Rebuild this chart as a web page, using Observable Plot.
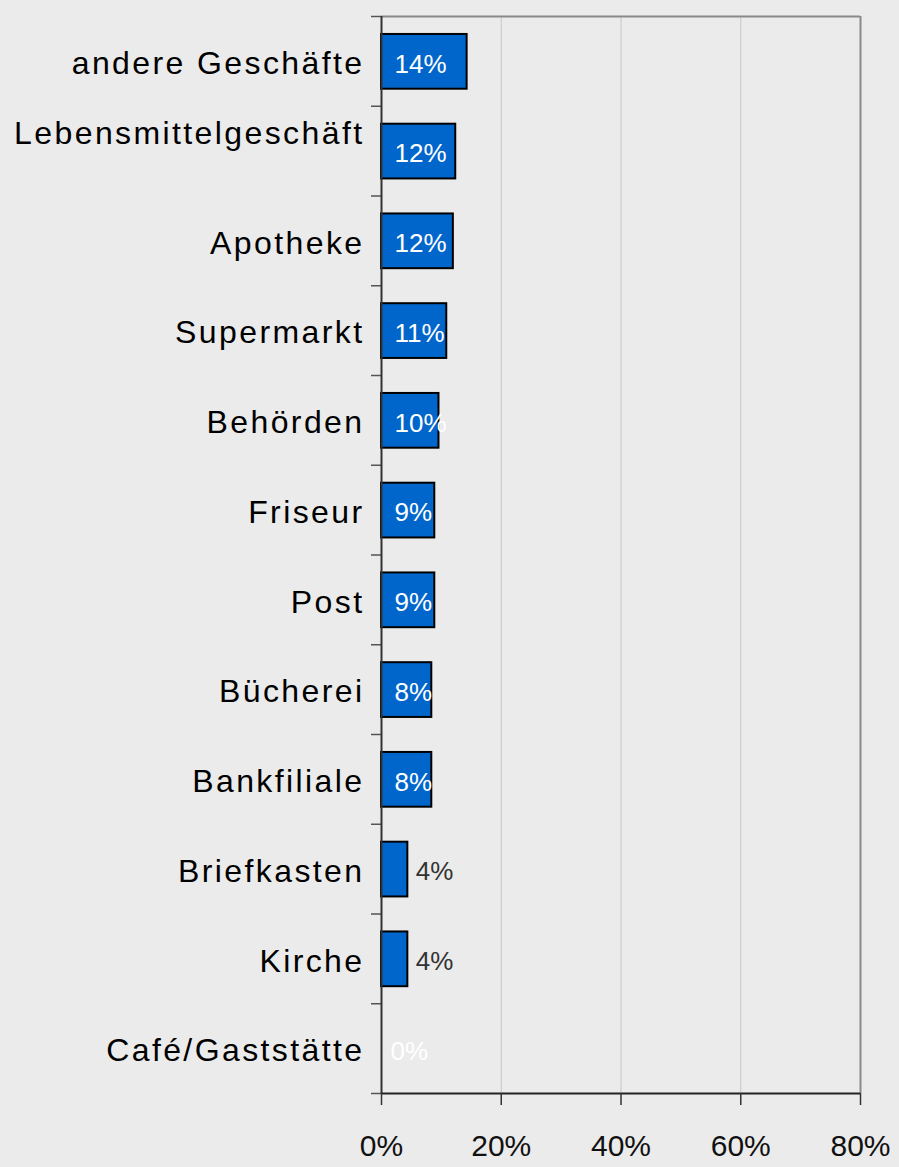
<!DOCTYPE html>
<html><head><meta charset="utf-8">
<script src="https://cdn.jsdelivr.net/npm/d3@7"></script>
<script src="https://cdn.jsdelivr.net/npm/@observablehq/plot@0.6"></script>
<style>
html,body{margin:0;padding:0;background:#ebebeb;}
#chart svg{display:block;}
</style></head><body><div id="chart"></div>
<script>
const categories = ["andere Geschäfte", "Lebensmittelgeschäft\n", "Apotheke", "Supermarkt", "Behörden", "Friseur", "Post", "Bücherei", "Bankfiliale", "Briefkasten", "Kirche", "Café/Gaststätte"];
const values = [14.3, 12.4, 12.0, 10.9, 9.6, 8.9, 8.9, 8.4, 8.4, 4.4, 4.4, 0];
const xTicks = [0, 20, 40, 60, 80];
const xTickLabels = ["0%", "20%", "40%", "60%", "80%"];

const data = categories.map((c, i) => ({cat: c, i, v: values[i], label: Math.round(values[i]) + "%"}));
const n = categories.length;
const font = "'Liberation Sans', Arial, Helvetica, sans-serif";

const chart = Plot.plot({
  width: 899,
  height: 1167,
  marginLeft: 381,
  marginRight: 39,
  marginTop: 16,
  marginBottom: 74,
  style: {background: "#ebebeb", fontFamily: font},
  x: {domain: [0, 80], axis: null},
  y: {domain: [0, n], reverse: true, axis: null},
  marks: [
    Plot.text(data, {x: 0, y: d => d.i + 0.5, text: "cat", textAnchor: "end", dx: -17, dy: 0, fontSize: 32, fill: "#000", lineHeight: 1.25}),
    Plot.gridX(xTicks.slice(1, -1), {stroke: "#c6c6c6", strokeOpacity: 1, strokeWidth: 1}),
    Plot.ruleY([0], {stroke: "#8a8a8a", strokeWidth: 2}),
    Plot.ruleX([80], {stroke: "#8a8a8a", strokeWidth: 2}),
    Plot.rect(data.filter(d => d.v > 0), {x1: () => 0, x2: "v", y1: d => d.i + 0.2, y2: d => d.i + 0.81, fill: "#0066cc", stroke: "#000", strokeWidth: 2}),
    Plot.axisY({ticks: d3.range(n + 1), tickSize: 10, tickFormat: () => "", label: null, stroke: "#555", strokeWidth: 1.5}),
    Plot.ruleX([0], {stroke: "#333", strokeWidth: 2}),
    Plot.ruleY([n], {stroke: "#222", strokeWidth: 2}),
    Plot.axisX({ticks: xTicks, tickSize: 12, tickPadding: 29, label: null, tickFormat: d => xTickLabels[xTicks.indexOf(d)], fontSize: 30, fill: "#111", stroke: "#333", strokeWidth: 1.5}),
    Plot.text(data.filter(d => d.v >= 5), {x: 0, y: d => d.i + 0.5, text: "label", textAnchor: "start", dx: 13, dy: 3, fill: "#fff", fontSize: 26}),
    Plot.text(data.filter(d => d.v > 0 && d.v < 5), {x: "v", y: d => d.i + 0.5, text: "label", textAnchor: "start", dx: 8, dy: 3, fill: "#333", fontSize: 26}),
    Plot.text(data.filter(d => d.v === 0), {x: 0, y: d => d.i + 0.5, text: "label", textAnchor: "start", dx: 9, dy: 3, fill: "#fff", fontSize: 26})
  ]
});
const firstText = chart.querySelector('g[aria-label="text"]');
if (firstText) firstText.setAttribute("letter-spacing", "2.4px");
document.getElementById("chart").appendChild(chart);
</script>
</body></html>
